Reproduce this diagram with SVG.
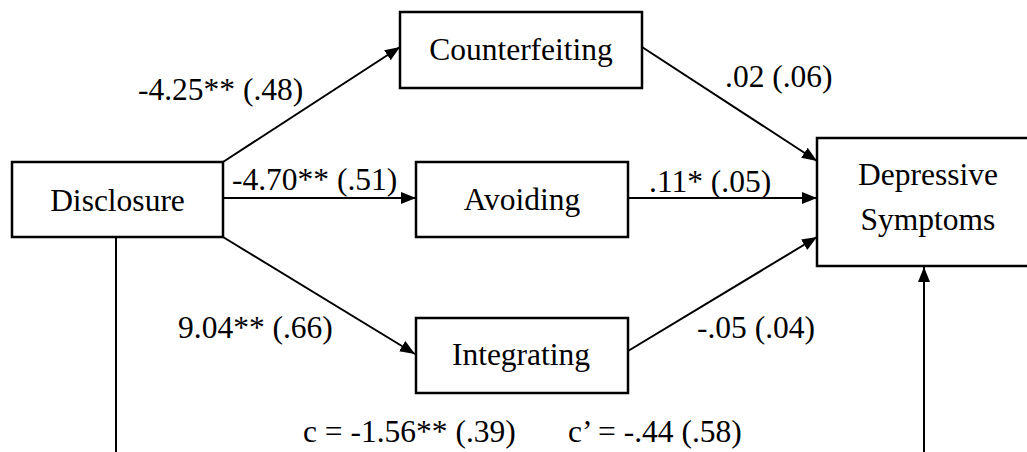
<svg xmlns="http://www.w3.org/2000/svg" width="1027" height="452" viewBox="0 0 1027 452">
<style>
.box{fill:#fff;stroke:#000;stroke-width:2.5}
.ln{fill:none;stroke:#000;stroke-width:2}
.t{font-size:31.5px;fill:#000}
.m{text-anchor:middle}
</style>
<defs>
<marker id="ah" markerUnits="userSpaceOnUse" markerWidth="15" markerHeight="12" refX="15" refY="6" orient="auto">
<path d="M0,0 L15,6 L0,12 z" fill="#000"/>
</marker>
</defs>
<rect width="1027" height="452" fill="#fff"/>
<g id="connectors">
<line class="ln" x1="223" y1="162" x2="400" y2="47" marker-end="url(#ah)"/>
<line class="ln" x1="223" y1="198" x2="416" y2="198" marker-end="url(#ah)"/>
<line class="ln" x1="223" y1="237" x2="415" y2="354" marker-end="url(#ah)"/>
<line class="ln" x1="642" y1="47" x2="817" y2="161" marker-end="url(#ah)"/>
<line class="ln" x1="628" y1="198" x2="817" y2="198" marker-end="url(#ah)"/>
<line class="ln" x1="628" y1="351" x2="817" y2="237" marker-end="url(#ah)"/>
<line class="ln" x1="116" y1="237" x2="116" y2="452"/>
<line class="ln" x1="924" y1="452" x2="924" y2="267" marker-end="url(#ah)"/>
</g>
<g font-family="'Liberation Serif', 'Times New Roman', 'DejaVu Serif', serif">
<g id="disclosure">
<rect class="box" x="12" y="162" width="211" height="75"/>
<text class="t m" x="117.5" y="211">Disclosure</text>
</g>
<g id="counterfeiting">
<rect class="box" x="400" y="12" width="242" height="76"/>
<text class="t m" x="521" y="60">Counterfeiting</text>
</g>
<g id="avoiding">
<rect class="box" x="416" y="162" width="212" height="75"/>
<text class="t m" x="522" y="210">Avoiding</text>
</g>
<g id="integrating">
<rect class="box" x="416" y="318" width="212" height="75"/>
<text class="t m" x="521" y="365">Integrating</text>
</g>
<g id="depressive">
<rect class="box" x="817" y="138" width="225" height="128"/>
<text class="t m" x="928" y="185">Depressive</text>
<text class="t m" x="928" y="230">Symptoms</text>
</g>
<g id="labels">
<text class="t" x="138" y="100">-4.25** (.48)</text>
<text class="t" x="232" y="190">-4.70** (.51)</text>
<text class="t" x="178" y="338">9.04** (.66)</text>
<text class="t" x="725" y="87">.02 (.06)</text>
<text class="t" x="649" y="192">.11* (.05)</text>
<text class="t" x="697" y="338">-.05 (.04)</text>
<text class="t" x="303" y="442">c = -1.56** (.39)</text>
<text class="t" x="568" y="442">c’ = -.44 (.58)</text>
</g>
</g>
</svg>
